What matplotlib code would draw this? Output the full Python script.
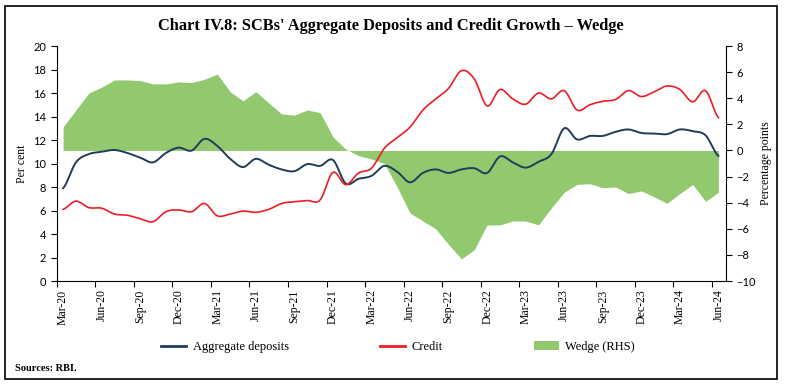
import numpy as np
import matplotlib.pyplot as plt
from matplotlib.patches import Rectangle, Patch
from matplotlib.lines import Line2D

plt.rcParams['font.family'] = ['Liberation Serif', 'DejaVu Serif']

# monthly readings, Mar-20 .. Jun-24
tick_labels = ['Mar-20', 'Jun-20', 'Sep-20', 'Dec-20', 'Mar-21', 'Jun-21',
               'Sep-21', 'Dec-21', 'Mar-22', 'Jun-22', 'Sep-22', 'Dec-22',
               'Mar-23', 'Jun-23', 'Sep-23', 'Dec-23', 'Mar-24', 'Jun-24']

deposits = [7.9, 10.1, 10.8, 11.0, 11.15, 10.9, 10.5, 10.1, 10.9, 11.35,
            11.1, 12.1, 11.5, 10.4, 9.7, 10.4, 9.9, 9.5, 9.35, 9.95,
            9.8, 10.3, 8.3, 8.7, 8.95, 9.8, 9.3, 8.4, 9.2, 9.5,
            9.2, 9.5, 9.6, 9.2, 10.6, 10.1, 9.65, 10.15, 10.8, 13.0,
            12.05, 12.35, 12.35, 12.7, 12.9, 12.6, 12.55, 12.5, 12.9, 12.75,
            12.4, 10.65]

credit = [6.1, 6.8, 6.25, 6.2, 5.7, 5.6, 5.3, 5.05, 5.9, 6.05,
          5.9, 6.6, 5.55, 5.7, 5.95, 5.85, 6.1, 6.6, 6.75, 6.85,
          6.9, 9.25, 8.2, 9.2, 9.6, 11.3, 12.2, 13.1, 14.55, 15.5,
          16.4, 17.9, 17.2, 14.9, 16.3, 15.5, 15.05, 16.0, 15.5, 16.2,
          14.55, 15.0, 15.3, 15.45, 16.2, 15.7, 16.1, 16.6, 16.3, 15.25,
          16.2, 13.9]

wedge = [1.8, 3.1, 4.4, 4.85, 5.4, 5.4, 5.35, 5.1, 5.1, 5.25,
         5.2, 5.45, 5.85, 4.5, 3.8, 4.5, 3.65, 2.8, 2.7, 3.1,
         2.9, 1.05, 0.1, -0.4, -0.65, -1.0, -2.8, -4.8, -5.4, -6.0,
         -7.2, -8.3, -7.6, -5.7, -5.7, -5.4, -5.4, -5.7, -4.4, -3.2,
         -2.6, -2.55, -2.85, -2.8, -3.3, -3.1, -3.55, -4.05, -3.3, -2.6,
         -3.9, -3.2]


def smooth(y, n=12):
    # Catmull-Rom curve through the points, like a smoothed spreadsheet line
    y = np.asarray(y, float)
    p = np.concatenate([[y[0]], y, [y[-1]]])
    t = np.linspace(0, 1, n, endpoint=False)
    xs, ys = [], []
    for i in range(len(y) - 1):
        p0, p1, p2, p3 = p[i], p[i + 1], p[i + 2], p[i + 3]
        ys.append(0.5 * (2 * p1 + (-p0 + p2) * t
                         + (2 * p0 - 5 * p1 + 4 * p2 - p3) * t ** 2
                         + (-p0 + 3 * p1 - 3 * p2 + p3) * t ** 3))
        xs.append(i + t)
    xs.append([len(y) - 1])
    ys.append([y[-1]])
    return np.concatenate(xs), np.concatenate(ys)


blue = '#1f3d5a'
red = '#ee1c25'
green = '#92c96f'

fig = plt.figure(figsize=(7.85, 3.85), dpi=100)
ax = fig.add_axes([0.0722, 0.270, 0.8528, 0.6105])
ax2 = ax.twinx()
ax.set_zorder(2)
ax.patch.set_visible(False)

x = np.arange(len(wedge))
ax2.fill_between(x, 0, wedge, color=green, lw=0)
ax2.set_ylim(-10, 8)
ax2.set_yticks(np.arange(-10, 9, 2))

xd, yd = smooth(deposits)
xc, yc = smooth(credit)
ax.plot(xd, yd, color=blue, lw=1.4)
ax.plot(xc, yc, color=red, lw=1.2)
ax.set_ylim(0, 20)
ax.set_yticks(np.arange(0, 21, 2))
ax.set_xlim(-0.5, 51.6)

# ticks between categories, labels on them
ax.set_xticks(np.arange(-0.5, 51, 3))
ax.set_xticklabels([])
ax.set_xticks(np.arange(0, 52, 3), minor=True)
ax.set_xticklabels(tick_labels, minor=True, rotation=90, fontsize=8.5)
ax.tick_params(axis='x', which='minor', length=0, pad=6)
ax.tick_params(axis='x', which='major', length=4, width=0.8)

for a in (ax, ax2):
    a.spines['top'].set_visible(False)
    for s in a.spines.values():
        s.set_linewidth(0.8)
ax.spines['right'].set_visible(False)
ax2.spines['left'].set_visible(False)
ax2.spines['bottom'].set_visible(False)

ax.tick_params(axis='y', labelsize=8, length=4, width=0.8)
ax2.tick_params(axis='y', labelsize=8, length=4, width=0.8)
for lab in ax.get_yticklabels() + ax2.get_yticklabels():
    lab.set_family(['Lato', 'DejaVu Sans'])

ax.set_ylabel('Per cent', fontsize=8.5, labelpad=4)
ax2.set_ylabel('Percentage points', fontsize=8.5, labelpad=3)

fig.text(0.498, 0.933, "Chart IV.8: SCBs' Aggregate Deposits and Credit Growth \u2013 Wedge",
         ha='center', va='center', fontsize=11.8, fontweight='bold')

handles = [Line2D([], [], color=blue, lw=2),
           Line2D([], [], color=red, lw=2),
           Patch(facecolor=green, edgecolor='none')]
fig.legend(handles, ['Aggregate deposits', 'Credit', 'Wedge (RHS)'],
           loc='center', bbox_to_anchor=(0.507, 0.099), ncol=3, frameon=False,
           fontsize=9, columnspacing=7.3, handlelength=2.0, handletextpad=0.5)

fig.text(0.019, 0.044, 'Sources: RBI.', fontsize=7.5, fontweight='bold',
         ha='left', va='center')

fig.patches.append(Rectangle((5 / 785, 6 / 385), 772 / 785, 373 / 385,
                             transform=fig.transFigure, fill=False,
                             ec='black', lw=1.2))

fig.savefig('out.png', dpi=100)
